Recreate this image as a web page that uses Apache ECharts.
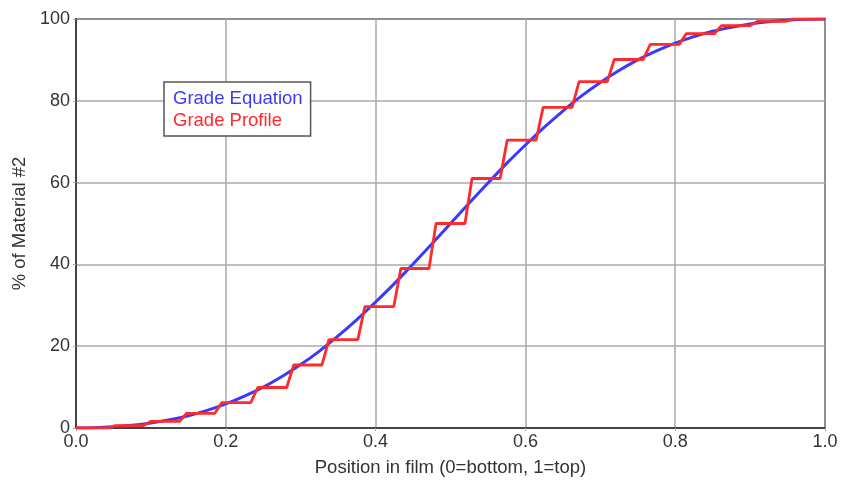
<!DOCTYPE html>
<html>
<head>
<meta charset="utf-8">
<script src="https://cdn.jsdelivr.net/npm/echarts@6/dist/echarts.min.js"></script>
<style>
  html, body { margin: 0; padding: 0; background: #fff; }
  #chart { width: 842px; height: 486px; }
</style>
</head>
<body>
<div id="chart"></div>
<script>
// Grade equation (smooth curve)
const eqPositions = [0, 0.025, 0.05, 0.075, 0.10, 0.125, 0.15, 0.175, 0.20, 0.225, 0.25,
                     0.275, 0.30, 0.325, 0.35, 0.375, 0.40, 0.425, 0.45, 0.475, 0.50,
                     0.525, 0.55, 0.575, 0.60, 0.625, 0.65, 0.675, 0.70, 0.725, 0.75,
                     0.775, 0.80, 0.825, 0.85, 0.875, 0.90, 0.925, 0.95, 0.975, 1.00];
const eqValues = [0, 0.07, 0.3, 0.65, 1.2, 2.0, 3.0, 4.3, 5.9, 7.8, 10.0,
                  12.6, 15.5, 18.8, 22.5, 26.5, 30.8, 35.3, 40.1, 45.0, 50.0,
                  55.0, 59.9, 64.7, 69.2, 73.5, 77.5, 81.2, 84.5, 87.4, 90.0,
                  92.2, 94.1, 95.7, 97.0, 98.0, 98.8, 99.35, 99.7, 99.93, 100];

// Grade profile (21 discrete layers)
const layerEdges = [0, 0.048, 0.095, 0.143, 0.190, 0.238, 0.286, 0.333, 0.381, 0.429, 0.476,
                    0.524, 0.571, 0.619, 0.667, 0.714, 0.762, 0.810, 0.857, 0.905, 0.952, 1.0];
const layerLevels = [0, 0.6, 1.6, 3.6, 6.2, 9.9, 15.4, 21.6, 29.7, 39.0, 50.0,
                     61.0, 70.4, 78.4, 84.7, 90.1, 93.8, 96.4, 98.4, 99.4, 100];
const riserHalfWidth = 0.0047;

const xTicks = [0, 0.2, 0.4, 0.6, 0.8, 1.0];
const yTicks = [0, 20, 40, 60, 80, 100];

const eqData = eqPositions.map((x, i) => [x, eqValues[i]]);
const profileData = [];
layerLevels.forEach((lvl, k) => {
  const start = k === 0 ? layerEdges[0] : layerEdges[k] + riserHalfWidth;
  const end = k === layerLevels.length - 1 ? layerEdges[k + 1] : layerEdges[k + 1] - riserHalfWidth;
  profileData.push([start, lvl], [end, lvl]);
});

const FONT = 'Liberation Sans, Arial, sans-serif';
const chart = echarts.init(document.getElementById('chart'), null, { renderer: 'canvas' });
chart.setOption({
  animation: false,
  backgroundColor: '#ffffff',
  grid: {
    left: 76, right: 17, top: 19, bottom: 58,
    show: true, borderColor: '#444', borderWidth: 2, backgroundColor: 'transparent'
  },
  legend: {
    left: 164, top: 82,
    orient: 'vertical',
    backgroundColor: '#fff',
    borderColor: '#555',
    borderWidth: 1.5,
    borderRadius: 0,
    padding: [7, 8, 6, 4],
    itemGap: 3,
    itemWidth: 0,
    itemHeight: 12,
    selectedMode: false,
    textStyle: { fontFamily: FONT, fontSize: 18.5 },
    data: [
      { name: 'Grade Equation', icon: 'none', textStyle: { color: '#3a3aff' } },
      { name: 'Grade Profile', icon: 'none', textStyle: { color: '#ff2a2a' } }
    ]
  },
  xAxis: {
    type: 'value', min: xTicks[0], max: xTicks[xTicks.length - 1], interval: 0.2,
    name: 'Position in film (0=bottom, 1=top)',
    nameLocation: 'middle', nameGap: 30,
    nameTextStyle: { fontFamily: FONT, fontSize: 18.5, color: '#333' },
    axisLine: { show: true, lineStyle: { color: '#444', width: 2 } },
    axisTick: { show: true, length: 3, lineStyle: { color: '#aaa' } },
    axisLabel: { fontFamily: FONT, fontSize: 18, color: '#333', margin: 5,
                 formatter: v => v.toFixed(1) },
    splitLine: { show: true, lineStyle: { color: '#aaa', width: 1.5 } }
  },
  yAxis: {
    type: 'value', min: yTicks[0], max: yTicks[yTicks.length - 1], interval: 20,
    name: '% of Material #2',
    nameLocation: 'middle', nameGap: 38,
    nameTextStyle: { fontFamily: FONT, fontSize: 18.5, color: '#333' },
    axisLine: { show: true, lineStyle: { color: '#444', width: 2 } },
    axisTick: { show: true, length: 3, lineStyle: { color: '#aaa' } },
    axisLabel: { fontFamily: FONT, fontSize: 18, color: '#333', margin: 6 },
    splitLine: { show: true, lineStyle: { color: '#aaa', width: 1.5 } }
  },
  series: [
    {
      name: 'Grade Equation', type: 'line', data: eqData,
      smooth: 0.3, showSymbol: false,
      lineStyle: { color: '#3a3aff', width: 3 }, itemStyle: { color: '#3a3aff' },
      z: 2
    },
    {
      name: 'Grade Profile', type: 'line', data: profileData,
      showSymbol: false,
      lineStyle: { color: '#ff2a2a', width: 2.8 }, itemStyle: { color: '#ff2a2a' },
      z: 3
    }
  ]
});
</script>
</body>
</html>
